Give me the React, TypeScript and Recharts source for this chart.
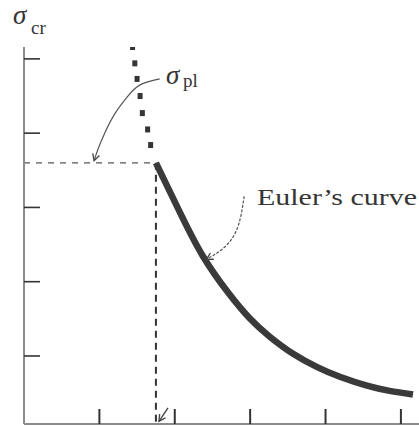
import React from 'react';
import { ComposedChart, Line, Scatter, XAxis, YAxis, ReferenceLine } from 'recharts';

const WIDTH = 419;
const HEIGHT = 426;

// Axis ticks (slenderness ratio L/r and critical stress σcr, no labels)
const xTicks = [1, 2, 3, 4, 5];
const yTicks = [1, 2, 3, 4, 5];
const xDomain: [number, number] = [0, 5.24];
const yDomain: [number, number] = [0.084, 5.16];

// Proportional limit: σpl and the slenderness at which Euler's curve starts
const lambdaPl = 1.75;
const sigmaPl = 3.6;

// Euler's curve, valid region below σpl
const eulerLambda = [1.75, 2.07, 2.37, 2.71, 3.0, 3.26, 3.57, 3.89, 4.19, 4.55, 4.85, 5.16];
const eulerSigma = [3.6, 2.93, 2.35, 1.85, 1.5, 1.26, 1.03, 0.85, 0.72, 0.6, 0.53, 0.48];

// Euler's curve continued above σpl (not applicable), shown dotted
const dottedLambda = [1.44, 1.47, 1.5, 1.54, 1.57, 1.64, 1.68];
const dottedSigma = [5.16, 4.94, 4.73, 4.5, 4.27, 4.05, 3.84];

// Leader arrows for the annotations
const arrowPlLambda = [1.8, 1.54, 1.37, 1.21, 1.07, 0.98, 0.93];
const arrowPlSigma = [4.73, 4.65, 4.49, 4.27, 4.0, 3.78, 3.63];
const arrowEulerLambda = [2.92, 2.88, 2.79, 2.62, 2.42];
const arrowEulerSigma = [3.15, 2.9, 2.63, 2.43, 2.3];
const arrowAxisLambda = [1.91, 1.79];
const arrowAxisSigma = [0.3, 0.12];

const toPoints = (xs: number[], ys: number[]) => xs.map((x, i) => ({ x, y: ys[i] }));

const eulerData = toPoints(eulerLambda, eulerSigma);
const dottedData = toPoints(dottedLambda, dottedSigma);
const arrowPlData = toPoints(arrowPlLambda, arrowPlSigma);
const arrowEulerData = toPoints(arrowEulerLambda, arrowEulerSigma);
const arrowAxisData = toPoints(arrowAxisLambda, arrowAxisSigma);

const INK = '#353535';
const SERIF = '"Liberation Serif", "Times New Roman", serif';

const SquareDot = (props: any) => {
  const { cx, cy } = props;
  return <rect x={cx - 2.5} y={cy - 3} width={5} height={6} fill={INK} />;
};

export default function App() {
  return (
    <div style={{ position: 'absolute', left: 0, top: 0, width: WIDTH, height: HEIGHT, background: '#fff' }}>
      <svg width={0} height={0} style={{ position: 'absolute' }}>
        <defs>
          <marker
            id="barb"
            markerWidth={10}
            markerHeight={10}
            refX={8}
            refY={5}
            orient="auto"
            markerUnits="userSpaceOnUse"
          >
            <path d="M1.5,1.5 L8,5 L1.5,8.5" fill="none" stroke="#444" strokeWidth={1.3} />
          </marker>
        </defs>
      </svg>
      <ComposedChart width={WIDTH} height={HEIGHT} margin={{ top: 47, right: 0, bottom: 2, left: 24 }}>
        <XAxis
          type="number"
          dataKey="x"
          domain={xDomain}
          ticks={xTicks}
          allowDataOverflow
          mirror
          tickSize={15}
          tickFormatter={() => ''}
          axisLine={{ stroke: '#8c8c8c', strokeWidth: 2 }}
          tickLine={{ stroke: '#333', strokeWidth: 2 }}
        />
        <YAxis
          type="number"
          dataKey="y"
          domain={yDomain}
          ticks={yTicks}
          allowDataOverflow
          mirror
          tickSize={16}
          tickFormatter={() => ''}
          axisLine={{ stroke: '#8c8c8c', strokeWidth: 2 }}
          tickLine={{ stroke: '#333', strokeWidth: 1.6 }}
        />
        <ReferenceLine
          segment={[{ x: 0, y: sigmaPl }, { x: lambdaPl, y: sigmaPl }]}
          stroke="#555"
          strokeWidth={1.3}
          strokeDasharray="6 6"
        />
        <ReferenceLine
          segment={[{ x: lambdaPl, y: sigmaPl }, { x: lambdaPl, y: yDomain[0] }]}
          stroke="#333"
          strokeWidth={2}
          strokeDasharray="7 5"
        />
        <Line
          data={eulerData}
          dataKey="y"
          type="natural"
          stroke="#3a3a3a"
          strokeWidth={6.5}
          dot={false}
          activeDot={false}
          isAnimationActive={false}
        />
        <Scatter data={dottedData} dataKey="y" shape={SquareDot} isAnimationActive={false} />
        <Line
          data={arrowPlData}
          dataKey="y"
          type="natural"
          stroke="#555"
          strokeWidth={1.2}
          dot={false}
          activeDot={false}
          isAnimationActive={false}
          markerEnd="url(#barb)"
        />
        <Line
          data={arrowEulerData}
          dataKey="y"
          type="natural"
          stroke="#555"
          strokeWidth={1.2}
          strokeDasharray="3 1.5"
          dot={false}
          activeDot={false}
          isAnimationActive={false}
          markerEnd="url(#barb)"
        />
        <Line
          data={arrowAxisData}
          dataKey="y"
          type="linear"
          stroke="#444"
          strokeWidth={1.4}
          dot={false}
          activeDot={false}
          isAnimationActive={false}
          markerEnd="url(#barb)"
        />
      </ComposedChart>
      <svg
        width={WIDTH}
        height={HEIGHT}
        style={{ position: 'absolute', left: 0, top: 0, pointerEvents: 'none' }}
      >
        <g fontFamily={SERIF} fill={INK}>
          <text x={13} y={24} fontSize={27} fontStyle="italic">σ</text>
          <text x={31} y={34} fontSize={19}>cr</text>
          <text x={166} y={84} fontSize={27} fontStyle="italic">σ</text>
          <text x={183} y={87} fontSize={19}>pl</text>
          <text x={257} y={205} fontSize={23} textLength={160} lengthAdjust="spacingAndGlyphs">
            Euler’s curve
          </text>
        </g>
      </svg>
    </div>
  );
}
